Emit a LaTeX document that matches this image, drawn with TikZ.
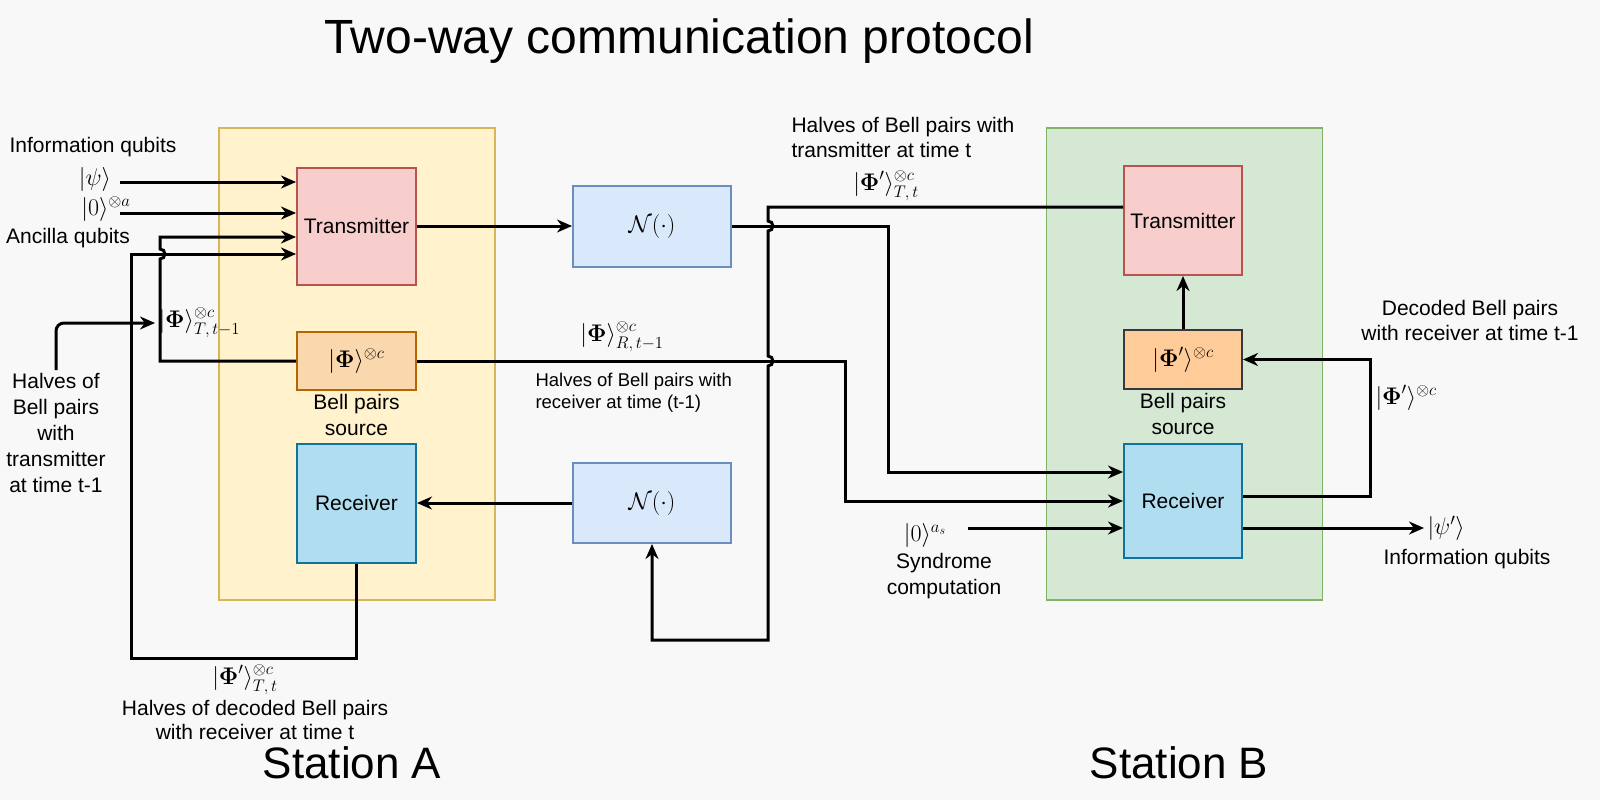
\RequirePackage{fix-cm}
\documentclass[tikz,border=0pt]{standalone}
\usepackage[no-math]{fontspec}
\setmainfont{Liberation Sans}
\usepackage{amsmath, amssymb}
\usetikzlibrary{positioning, arrows.meta, calc}
\usepackage{xcolor}
\definecolor{bggray}{HTML}{F8F8F8}
\definecolor{stAfill}{HTML}{FFF2CC}
\definecolor{stAline}{HTML}{D6B656}
\definecolor{stBfill}{HTML}{D5E8D4}
\definecolor{stBline}{HTML}{82B366}
\definecolor{txfill}{HTML}{F8CECC}
\definecolor{txline}{HTML}{B85450}
\definecolor{bellAfill}{HTML}{FAD7AC}
\definecolor{bellAline}{HTML}{B46504}
\definecolor{bellBfill}{HTML}{FFCC99}
\definecolor{bellBline}{HTML}{36393D}
\definecolor{rxfill}{HTML}{B1DDF0}
\definecolor{rxline}{HTML}{10739E}
\definecolor{chfill}{HTML}{DAE8FC}
\definecolor{chline}{HTML}{6C8EBF}
\newcommand{\fnorm}{\fontsize{21}{26}\selectfont}
\newcommand{\fmath}{\fontsize{24}{28}\selectfont}
\newcommand{\fsmall}{\fontsize{18.5}{21.5}\selectfont}
\newcommand{\ftitle}{\fontsize{48}{56}\selectfont}
\newcommand{\fstation}{\fontsize{44}{52}\selectfont}
\newcommand{\Phib}{\boldsymbol{\Phi}}

\begin{document}
\begin{tikzpicture}[x=1pt, y=-1pt,
      every node/.style={font=\fnorm},
      station/.style={draw, line width=1.8pt, minimum width=276pt, minimum height=472pt},
      blk/.style={draw, line width=2pt, inner sep=1pt, align=center},
      mth/.style={font=\fmath},
      wire/.style={line width=3pt},
      >={Stealth[length=15pt, width=13pt]},
    ]
    \fill[bggray] (0,0) rectangle (1600,800);

    % stations
    \node[station, fill=stAfill, draw=stAline] (stA) at (357,364) {};
    \node[station, fill=stBfill, draw=stBline] (stB) at (1184.5,364) {};

    % blocks of station A
    \node[blk, fill=txfill, draw=txline, minimum width=119pt, minimum height=117pt] (txA) at (356.5,226) {Transmitter};
    \node[blk, mth, fill=bellAfill, draw=bellAline, minimum width=119pt, minimum height=58pt] (bellA) at (356.5,361) {$|\Phib\rangle^{\otimes c}$};
    \node[below=0pt of bellA, align=center] (srcA) {Bell pairs\\source};
    \node[blk, fill=rxfill, draw=rxline, minimum width=119pt, minimum height=119pt] (rxA) at (356.5,503) {Receiver};

    % channels
    \node[blk, mth, fill=chfill, draw=chline, minimum width=158pt, minimum height=81pt] (chTop) at (652,226) {$\mathcal{N}(\cdot)$};
    \node[blk, mth, fill=chfill, draw=chline, minimum width=158pt, minimum height=80pt] (chBot) at (652,503) {$\mathcal{N}(\cdot)$};

    % blocks of station B
    \node[blk, fill=txfill, draw=txline, minimum width=118pt, minimum height=109pt] (txB) at (1183,220.5) {Transmitter};
    \node[blk, mth, fill=bellBfill, draw=bellBline, minimum width=118pt, minimum height=59pt] (bellB) at (1183,359.5) {$|\Phib'\rangle^{\otimes c}$};
    \node[below=0pt of bellB, align=center] (srcB) {Bell pairs\\source};
    \node[blk, fill=rxfill, draw=rxline, minimum width=118pt, minimum height=114pt] (rxB) at (1183,501) {Receiver};

    % labels
    \node[font=\ftitle] (title) at (679,41) {Two-way communication protocol};
    \node (infoA) at (93,147) {Information qubits};
    \node[mth] (psiA) at (95,179) {$|\psi\rangle$};
    \node[mth] (zeroA) at (106,209) {$|0\rangle^{\otimes a}$};
    \node (ancA) at (68,238) {Ancilla qubits};
    \node[align=center, anchor=north] (halvesA) at (56,370) {Halves of\\Bell pairs\\with\\transmitter\\at time t-1};
    \node[mth, anchor=west] (phiTA) at (155,323) {$|\Phib\rangle^{\otimes c}_{T,\,t-1}$};
    \node[mth] (phiRA) at (622,337) {$|\Phib\rangle^{\otimes c}_{R,\,t-1}$};
    \node[anchor=north west, align=left, font=\fsmall] (noteR) at (532,370) {Halves of Bell pairs with\\receiver at time (t-1)};
    \node[anchor=north west, align=left, font=\fontsize{21}{25}\selectfont] (noteT) at (788,114) {Halves of Bell pairs with\\transmitter at time t};
    \node[mth] (phiTB) at (886,186) {$|\Phib'\rangle^{\otimes c}_{T,\,t}$};
    \node[mth] (phiTt) at (245,680) {$|\Phib'\rangle^{\otimes c}_{T,\,t}$};
    \node[align=center, font=\fontsize{21}{23.5}\selectfont] (noteDec) at (255,720) {Halves of decoded Bell pairs\\with receiver at time t};
    \node[mth] (zeroB) at (925,535) {$|0\rangle^{a_s}$};
    \node[align=center] (synd) at (944,576) {Syndrome\\computation};
    \node[align=center, font=\fontsize{21}{25}\selectfont] (noteFb) at (1470,320) {Decoded Bell pairs\\with receiver at time t-1};
    \node[mth, anchor=west] (phiFb) at (1372,398) {$|\Phib'\rangle^{\otimes c}$};
    \node[mth, anchor=west] (psiB) at (1424,528) {$|\psi'\rangle$};
    \node (infoB) at (1467,559) {Information qubits};
    \node[font=\fstation] (nameA) at (352,763) {Station A};
    \node[font=\fstation] (nameB) at (1179,763) {Station B};

    % wires of station A
    \coordinate (inPsi) at (120,182);
    \coordinate (inZero) at (120,213);
    \draw[wire, ->] (inPsi) -- (inPsi -| txA.west);
    \draw[wire, ->] (inZero) -- (inZero -| txA.west);
    \draw[wire, ->] (bellA.west) -- (160,361) -- (160,259)
      arc[start angle=-90, end angle=90, radius=5pt] -- (160,237) -- (txA.west |- 0,237);
    \draw[wire, ->] (rxA.south) -- (rxA.south |- 0,658) -- (131,658) -- (131,254) -- (txA.west |- 0,254);
    \draw[wire, ->, rounded corners=8pt] (halvesA.north) |- (phiTA.west);

    % links between the stations
    \draw[wire, ->] (txA.east) -- (txA.east -| chTop.west);
    \draw[wire, ->] (chTop.east) -- (888,226) -- (888,472) -- (rxB.west |- 0,472);
    \draw[wire, ->] (bellA.east) -- (845,361) -- (845,501) -- (rxB.west |- 0,501);
    \coordinate (inSyn) at (968,528);
    \draw[wire, ->] (inSyn) -- (inSyn -| rxB.west);
    \draw[wire, ->] ([yshift=13.5pt]txB.west) -- (768,207) -- (768,221)
      arc[start angle=90, end angle=-90, radius=5pt] -- (768,356)
      arc[start angle=90, end angle=-90, radius=5pt] -- (768,640)
      -- (chBot.south |- 0,640) -- (chBot.south);
    \draw[wire, ->] (chBot.west) -- (chBot.west -| rxA.east);

    % wires of station B
    \draw[wire, ->] (bellB.north) -- (txB.south);
    \draw[wire, ->] ([yshift=5pt]rxB.east) -- (1370,496) -- (1370,359.5) -- (bellB.east);
    \draw[wire, ->] ([yshift=-27pt]rxB.east) -- (psiB.west);
  \end{tikzpicture}
\end{document}
